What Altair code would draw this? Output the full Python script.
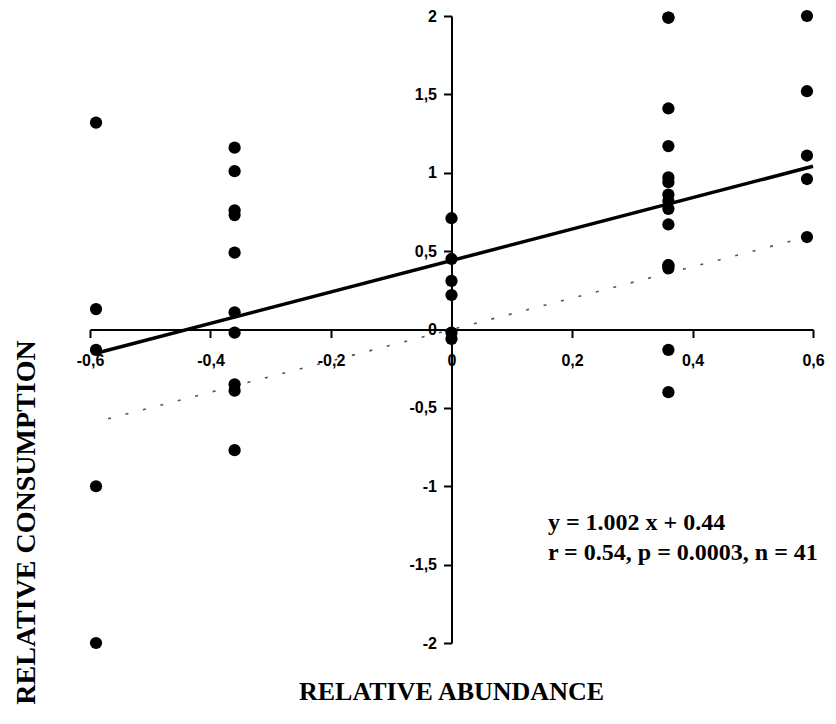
import altair as alt
import pandas as pd

# Relative abundance of the five groups (x) and relative consumption values (y)
col_x = [-0.59, -0.36, 0.0, 0.36, 0.59]
col1_y = [1.32, 0.13, -0.13, -1.0, -2.0]
col2_y = [1.16, 1.01, 0.76, 0.73, 0.49, 0.11, -0.02, -0.35, -0.39, -0.77]
col3_y = [0.71, 0.45, 0.31, 0.22, -0.02, -0.06]
col4_y = [1.99, 1.99, 1.41, 1.17, 0.97, 0.94, 0.86, 0.82, 0.77, 0.67, 0.41, 0.41, 0.39, -0.13, -0.40]
col5_y = [2.0, 1.52, 1.11, 0.96, 0.59]

# regression y = 1.002 x + 0.44 and the 1:1 line
slope = 1.002
intercept = 0.44
reg_x = [-0.59, 0.6]
ident_x = [-0.57, 0.59]

x_ticks = [-0.6, -0.4, -0.2, 0, 0.2, 0.4, 0.6]
y_ticks = [-2, -1.5, -1, -0.5, 0, 0.5, 1, 1.5, 2]

ann_lines = ["y = 1.002 x + 0.44", "r = 0.54, p = 0.0003, n = 41"]
ann_x = [0.16, 0.16]
ann_y = [-1.236, -1.427]

rows = []
for xv, ys in zip(col_x, [col1_y, col2_y, col3_y, col4_y, col5_y]):
    for yv in ys:
        rows.append({"x": xv, "y": yv})
pts = pd.DataFrame(rows)
reg = pd.DataFrame({"x": reg_x, "y": [slope * v + intercept for v in reg_x]})
ident = pd.DataFrame({"x": ident_x, "y": ident_x})
ann = pd.DataFrame({"x": ann_x, "y": ann_y, "t": ann_lines})

W, H = 723, 627
label_expr = "replace(toString(datum.value), '.', ',')"

X = alt.X(
    "x:Q",
    scale=alt.Scale(domain=[-0.6, 0.6], nice=False, zero=False),
    axis=alt.Axis(
        values=x_ticks, orient="bottom", offset=-H / 2, grid=False,
        domainColor="black", domainWidth=2, tickColor="black", tickWidth=2, tickSize=8,
        labelFont="Liberation Sans", labelFontWeight="bold", labelFontSize=16, labelColor="black",
        labelPadding=15, labelExpr=label_expr, labelOverlap=False, labelFlush=False,
        title="RELATIVE ABUNDANCE", titleFont="Liberation Serif", titleFontWeight="bold",
        titleFontSize=26, titleColor="black", titleX=361, titleY=362,
        titleAlign="center", titleBaseline="middle",
    ),
)
Y = alt.Y(
    "y:Q",
    scale=alt.Scale(domain=[-2, 2], nice=False, zero=False),
    axis=alt.Axis(
        values=y_ticks, orient="left", offset=-W / 2, grid=False,
        domainColor="black", domainWidth=2, tickColor="black", tickWidth=2, tickSize=8,
        labelFont="Liberation Sans", labelFontWeight="bold", labelFontSize=16, labelColor="black",
        labelPadding=7, labelExpr=label_expr, labelOverlap=False, labelFlush=False,
        title="RELATIVE CONSUMPTION", titleFont="Liberation Serif", titleFontWeight="bold",
        titleFontSize=28, titleColor="black", titleAngle=270, titleX=-425, titleY=506,
        titleAlign="center", titleBaseline="middle",
    ),
)

points = alt.Chart(pts).mark_circle(size=150, color="black", opacity=1).encode(x=X, y=Y)
reg_line = alt.Chart(reg).mark_line(color="black", strokeWidth=3.5).encode(x=X, y=Y)
ident_line = alt.Chart(ident).mark_line(color="#555555", strokeWidth=1.6, strokeDash=[3, 15]).encode(x=X, y=Y)
text = alt.Chart(ann).mark_text(
    align="left", baseline="middle", font="Liberation Serif", fontWeight="bold",
    fontSize=24, color="black",
).encode(x=X, y=Y, text="t:N")

chart = (
    alt.layer(ident_line, reg_line, points, text)
    .properties(
        width=W, height=H,
        autosize=alt.AutoSizeParams(type="none"),
        padding={"left": 82, "top": 8, "right": 15, "bottom": 80},
        background="white",
    )
    .configure_view(strokeWidth=0)
)

chart.save("out.html", embed_options={"renderer": "svg", "actions": False})
